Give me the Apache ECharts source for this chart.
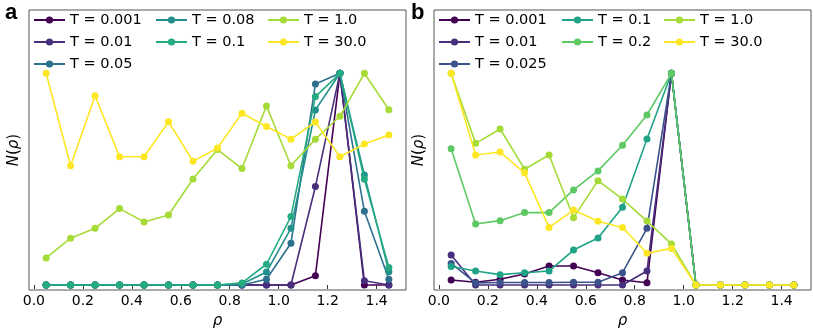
<!DOCTYPE html>
<html>
<head>
<meta charset="utf-8">
<script src="https://cdn.jsdelivr.net/npm/echarts@6/dist/echarts.min.js"></script>
<style>html,body{margin:0;padding:0;background:#fff;}#c{width:813px;height:336px;}</style>
</head>
<body>
<div id="c"></div>
<script>
// rho bin centres
const rho = [0.05,0.15,0.25,0.35,0.45,0.55,0.65,0.75,0.85,0.95,1.05,1.15,1.25,1.35,1.45];
const xTicks = [0.0,0.2,0.4,0.6,0.8,1.0,1.2,1.4];

// panel a
const aNames = ['T = 0.001','T = 0.01','T = 0.05','T = 0.08','T = 0.1','T = 1.0','T = 30.0'];
const aColors = ['#440154','#472f7d','#2d708e','#21908d','#25ab82','#a5db36','#fde725'];
const a_T0001 = [0,0,0,0,0,0,0,0,0,0,0,0.044,1.0,0,0];
const a_T001  = [0,0,0,0,0,0,0,0,0,0,0,0.465,1.0,0.02,0];
const a_T005  = [0,0,0,0,0,0,0,0,0,0.027,0.197,0.949,1.0,0.348,0.027];
const a_T008  = [0,0,0,0,0,0,0,0,0.005,0.061,0.268,0.827,1.0,0.52,0.063];
const a_T01   = [0,0,0,0,0,0,0,0,0.01,0.098,0.323,0.89,1.0,0.499,0.083];
const a_T1    = [0.128,0.221,0.268,0.361,0.298,0.331,0.501,0.64,0.55,0.846,0.563,0.689,0.797,1.0,0.828];
const a_T30   = [1.0,0.563,0.894,0.606,0.606,0.771,0.584,0.647,0.811,0.749,0.689,0.770,0.606,0.666,0.709];

// panel b
const bNames = ['T = 0.001','T = 0.01','T = 0.025','T = 0.1','T = 0.2','T = 1.0','T = 30.0'];
const bColors = ['#440154','#472f7d','#3b528b','#20a386','#5ec962','#a5db36','#fde725'];
const b_T0001 = [0.024,0.013,0.027,0.052,0.09,0.09,0.058,0.024,0.011,1.0,0,0,0,0,0];
const b_T001  = [0.142,0,0,0,0,0,0,0,0.066,1.0,0,0,0,0,0];
const b_T0025 = [0.102,0.01,0.012,0.012,0.012,0.013,0.013,0.058,0.268,1.0,0,0,0,0,0];
const b_T01   = [0.087,0.066,0.049,0.058,0.066,0.165,0.222,0.367,0.690,1.0,0,0,0,0,0];
const b_T02   = [0.644,0.288,0.304,0.342,0.342,0.449,0.539,0.660,0.803,1.0,0,0,0,0,0];
const b_T1    = [1.0,0.669,0.737,0.547,0.614,0.318,0.493,0.406,0.302,0.194,0,0,0,0,0];
const b_T30   = [1.0,0.614,0.628,0.530,0.272,0.354,0.301,0.272,0.150,0.173,0,0,0,0,0];

const aData = [a_T0001,a_T001,a_T005,a_T008,a_T01,a_T1,a_T30];
const bData = [b_T0001,b_T001,b_T0025,b_T01,b_T02,b_T1,b_T30];

const FONT = 'DejaVu Sans';
const series = [];
function addSeries(prefix, names, colors, data, idx) {
  names.forEach((n, i) => {
    series.push({
      name: prefix + '|' + n,
      type: 'line',
      xAxisIndex: idx, yAxisIndex: idx,
      data: rho.map((x, j) => [x, data[i][j]]),
      symbol: 'circle', symbolSize: 7,
      showSymbol: true, showAllSymbol: true,
      lineStyle: { width: 1.6, color: colors[i] },
      itemStyle: { color: colors[i] },
      emphasis: { disabled: true },
      z: 2 + i
    });
  });
}
addSeries('a', aNames, aColors, aData, 0);
addSeries('b', bNames, bColors, bData, 1);

function xAxis(gi) {
  return {
    type: 'value', gridIndex: gi, min: -0.02, max: 1.52,
    name: 'ρ', nameLocation: 'middle', nameGap: 24,
    nameTextStyle: { fontFamily: FONT, fontStyle: 'italic', fontSize: 15, color: '#000' },
    axisLine: { show: false },
    axisTick: { show: true, customValues: xTicks, length: 4, lineStyle: { color: '#333', width: 1 } },
    axisLabel: { show: true, customValues: xTicks, margin: 4, fontFamily: FONT, fontSize: 14, color: '#000',
      formatter: v => Number(v).toFixed(1) },
    splitLine: { show: false }
  };
}
function yAxis(gi) {
  return {
    type: 'value', gridIndex: gi, min: -0.0236, max: 1.299,
    name: '{i|N}{r|(}{i|ρ}{r|)}', nameLocation: 'middle', nameGap: 7, nameRotate: 90,
    nameTextStyle: { rich: {
      i: { fontFamily: FONT, fontStyle: 'italic', fontSize: 15, color: '#000' },
      r: { fontFamily: FONT, fontSize: 15, color: '#000' } } },
    axisLine: { show: false }, axisTick: { show: false }, axisLabel: { show: false },
    splitLine: { show: false }
  };
}
function legend(prefix, names, left) {
  return {
    left: left, top: 12, orient: 'vertical', padding: 0,
    itemWidth: 31, itemHeight: 9, itemGap: 6,
    selectedMode: false,
    data: names.map(n => prefix + '|' + n),
    formatter: name => name.split('|')[1],
    textStyle: { fontFamily: FONT, fontSize: 14.5, lineHeight: 16, color: '#000' }
  };
}

const chart = echarts.init(document.getElementById('c'), null, { renderer: 'canvas' });
chart.setOption({
  animation: false,
  backgroundColor: '#fff',
  grid: [
    { left: 29, top: 10, width: 377, height: 280, show: true, borderColor: '#555', borderWidth: 1, backgroundColor: 'transparent' },
    { left: 434, top: 10, width: 377, height: 280, show: true, borderColor: '#555', borderWidth: 1, backgroundColor: 'transparent' }
  ],
  xAxis: [xAxis(0), xAxis(1)],
  yAxis: [yAxis(0), yAxis(1)],
  legend: [
    legend('a', aNames.slice(0,3), 33),
    legend('a', aNames.slice(3,5), 155),
    legend('a', aNames.slice(5,7), 267),
    legend('b', bNames.slice(0,3), 438),
    legend('b', bNames.slice(3,5), 561),
    legend('b', bNames.slice(5,7), 663)
  ],
  graphic: [
    { type: 'text', left: 5, top: 2, style: { text: 'a', font: 'bold 22px "Liberation Sans"', fill: '#000' } },
    { type: 'text', left: 411, top: 2, style: { text: 'b', font: 'bold 22px "Liberation Sans"', fill: '#000' } }
  ],
  series: series
});
</script>
</body>
</html>
